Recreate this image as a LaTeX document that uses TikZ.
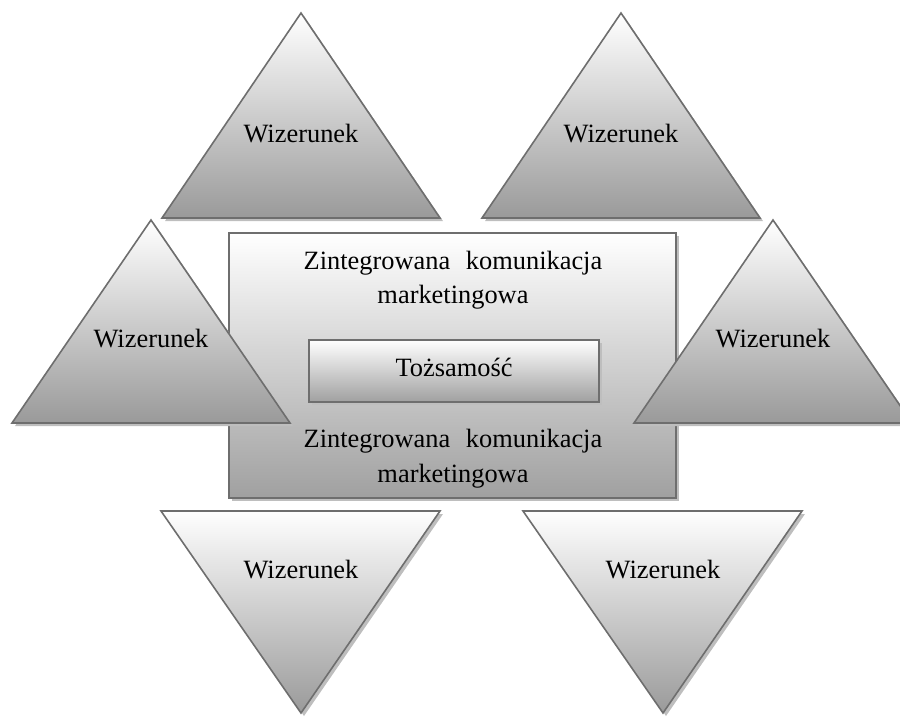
\documentclass[tikz,border=0pt]{standalone}
\usepackage{fontspec}
\setmainfont{Liberation Serif}
\usetikzlibrary{shadows}

\definecolor{edgegray}{HTML}{6E6E6E}
\definecolor{deepgray}{HTML}{9A9A9A}
\definecolor{boxgray}{HTML}{A0A0A0}
\definecolor{shadowgray}{HTML}{BEBEBE}

\tikzset{
  panel/.style={draw=edgegray, line width=1.6pt, line join=miter,
    top color=white, bottom color=deepgray,
    drop shadow={shadow xshift=3pt, shadow yshift=-3pt, fill=shadowgray, opacity=1}},
  boxpanel/.style={panel, bottom color=boxgray},
  txt/.style={inner sep=0pt, anchor=base, font=\fontsize{26.4pt}{34pt}\selectfont}
}

\begin{document}
\begin{tikzpicture}[x=1pt, y=-1pt]
\useasboundingbox (0,0) rectangle (900,716);
\clip (0,0) rectangle (900,716);

% upper pair of triangles
\path[panel] (301,13) -- (440,218) -- (162,218) -- cycle;
\path[panel] (621,13) -- (760,218) -- (482,218) -- cycle;

% central frame and the inner box
\path[boxpanel] (229,233) rectangle (676,498);
\path[boxpanel] (309,340) rectangle (599,402);

% side triangles, lying over the frame
\path[panel] (151,220) -- (290,423) -- (12,423) -- cycle;
\path[panel] (773,220) -- (912,423) -- (634,423) -- cycle;

% lower, inverted triangles
\path[panel] (161,511) -- (440,511) -- (301,713) -- cycle;
\path[panel] (523,511) -- (802,511) -- (663,713) -- cycle;

% texts
\node[txt] (w1) at (301,142) {Wizerunek};
\node[txt] (w2) at (621,142) {Wizerunek};
\node[txt] (w3) at (151,347) {Wizerunek};
\node[txt] (w4) at (773,347) {Wizerunek};
\node[txt] (w5) at (301,578) {Wizerunek};
\node[txt] (w6) at (663,578) {Wizerunek};

\node[txt] (zkm1) at (453,269) {Zintegrowana\hspace{9pt} komunikacja};
\node[txt] (mk1)  at (453,303) {marketingowa};
\node[txt] (tz)   at (454,376) {Tożsamość};
\node[txt] (zkm2) at (453,447) {Zintegrowana\hspace{9pt} komunikacja};
\node[txt] (mk2)  at (453,482) {marketingowa};
\end{tikzpicture}
\end{document}
